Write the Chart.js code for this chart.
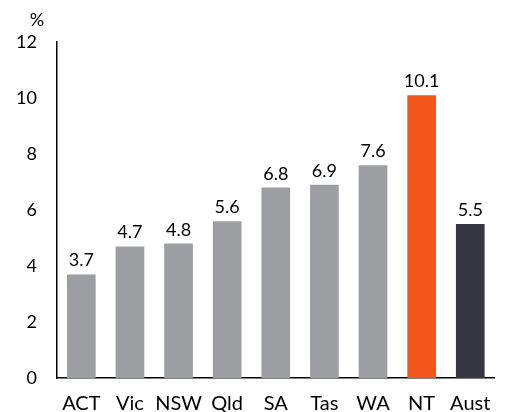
<!DOCTYPE html>
<html>
<head>
<meta charset="utf-8">
<script src="https://cdn.jsdelivr.net/npm/chart.js@4"></script>
<style>
  html, body { margin: 0; padding: 0; background: #fff; }
</style>
</head>
<body>
<canvas id="chart" width="507" height="412"></canvas>
<script>
'use strict';

// Data
let states = ['ACT', 'Vic', 'NSW', 'Qld', 'SA', 'Tas', 'WA', 'NT', 'Aust'];
let changes = [3.7, 4.7, 4.8, 5.6, 6.8, 6.9, 7.6, 10.1, 5.5];
let barColors = ['#9d9ea2', '#9d9ea2', '#9d9ea2', '#9d9ea2', '#9d9ea2', '#9d9ea2', '#9d9ea2', '#f4561c', '#353641'];
let yTicks = [0, 2, 4, 6, 8, 10, 12];

// Labels above bars and the % unit
let labelPlugin = {
  id: 'labels',
  afterDatasetsDraw(chart){
    let ctx = chart.ctx;
    let meta = chart.getDatasetMeta(0);
    ctx.save();
    ctx.fillStyle = '#000';
    ctx.font = '18px Lato';
    ctx.textAlign = 'center';
    ctx.textBaseline = 'alphabetic';
    meta.data.forEach((bar, i) => {
      ctx.fillText(changes[i].toFixed(1), bar.x, bar.y - 8);
    });
    ctx.fillText('%', 37, 26);
    ctx.restore();
  }
};

let chartContext = document.getElementById('chart');
new Chart(chartContext, { // eslint-disable-line
  type: 'bar',
  data: {
    labels: states,
    datasets: [{
      data: changes,
      backgroundColor: barColors,
      barPercentage: 0.59,
      categoryPercentage: 1
    }]
  },
  options: {
    responsive: false,
    animation: false,
    devicePixelRatio: 1,
    layout: { padding: { top: 42, right: 11, left: 0, bottom: 0 } },
    plugins: { legend: { display: false }, tooltip: { enabled: false } },
    scales: {
      x: {
        afterFit(axis){ axis.height = 34; },
        grid: { display: false, drawTicks: false },
        border: { color: '#000', width: 1.5 },
        ticks: { color: '#000', font: { family: 'Lato', size: 20, lineHeight: 1 }, padding: 16, maxRotation: 0, autoSkip: false }
      },
      y: {
        min: 0,
        max: 12,
        afterBuildTicks(axis){ axis.ticks = yTicks.map(v => ({ value: v })); },
        afterFit(axis){ axis.width = 57; },
        grid: { display: false, drawTicks: false },
        border: { color: '#000', width: 1.5 },
        ticks: { color: '#000', font: { family: 'Lato', size: 18 }, padding: 20 }
      }
    }
  },
  plugins: [labelPlugin]
});
</script>
</body>
</html>
